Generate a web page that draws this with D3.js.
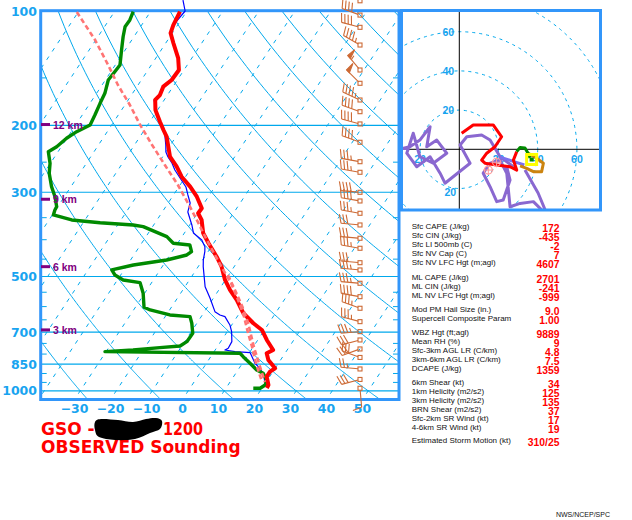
<!DOCTYPE html>
<html><head><meta charset="utf-8">
<script src="https://cdn.jsdelivr.net/npm/d3@7"></script>
<style>body{margin:0;background:#fff}svg{display:block}</style>
</head><body>
<svg id="c" width="632" height="520"></svg>
<script>
// ---------------- DATA ----------------
const pressureTicks = [100, 200, 300, 500, 700, 850, 1000];
const minorPressureTicks = [150, 250, 350, 400, 450, 550, 600, 650, 750, 800, 900, 950];
const tempTicks = [-30, -20, -10, 0, 10, 20, 30, 40, 50];
const heightLabels = ["3 km", "6 km", "9 km", "12 km"];
const heightPressures = [691, 471, 313, 199];

const tempP = [100.4,108.9,114.3,121.4,133.0,143.0,151.9,158.2,166.4,171.5,182.2,195.6,205.7,214.2,227.6,241.8,256.9,273.0,290.0,308.2,330.6,340.8,354.9,384.0,408.0,443.3,471.0,510.6,542.5,576.3,624.7,663.7,691.2,734.5,780.4,796.0,829.1,872.0,890.1,917.5,964.8,982.4];
const tempT = [-71.8,-71.2,-70.5,-67.9,-63.8,-61.4,-61.6,-62.7,-62.1,-62.5,-60.6,-57.2,-54.7,-52.6,-50.3,-48.0,-44.3,-41.1,-36.9,-33.2,-29.7,-29.8,-27.6,-24.8,-21.5,-16.7,-13.5,-10.1,-6.9,-3.2,1.1,5.7,9.3,12.5,16.1,14.9,16.6,20.0,19.2,19.2,21.2,21.3];

const dwptP = [100.4,105.6,110.0,116.9,126.7,138.7,144.5,151.9,164.7,175.0,187.8,199.5,207.8,216.3,227.6,234.6,251.7,267.4,290.0,308.2,327.4,334.0,344.3,354.9,360.8,365.8,369.6,392.7,408.7,412.9,430.1,438.8,452.3,466.2,480.5,495.3,510.6,519.0,553.5,602.4,612.3,631.2,637.7,663.7,705.2,742.0,761.6,769.5,780.4,788.3,796.0,812.7,845.9,880.9,898.7,936.0,964.8,984.2,984.2];
const dwptT = [-84.8,-84.2,-84.3,-83.0,-81.0,-78.7,-78.9,-79.2,-77.7,-77.2,-76.5,-76.0,-78.5,-80.1,-81.3,-82.7,-80.1,-78.5,-75.4,-72.6,-70.3,-70.2,-69.7,-63.7,-55.3,-45.7,-42.6,-34.2,-31.2,-26.3,-24.6,-25.3,-30.0,-38.3,-43.4,-41.6,-38.4,-33.2,-30.4,-27.6,-25.4,-19.0,-13.1,-11.4,-9.3,-9.4,-10.5,-15.8,-22.8,-30.3,7.5,9.0,12.1,15.2,17.6,19.8,20.3,19.5,17.6];

const wetbP = [93.6,100.0,108.9,114.3,121.4,133.0,143.0,151.9,158.2,166.4,171.5,182.2,191.3,203.2,212.0,225.3,235.0,242.2,251.2,262.1,275.1,290.6,305.0,320.2,338.1,365.8,384.0,400.6,417.2,430.1,452.3,471.0,531.8,570.4,618.6,631.2,637.7,670.6,698.3,742.0,772.3,780.4,788.3,793.1,845.9,863.5,898.7,945.7,974.7];
const wetbT = [-73.1,-70.5,-71.2,-70.5,-67.9,-63.8,-61.4,-61.6,-62.7,-62.1,-62.8,-60.4,-58.4,-55.5,-53.4,-51.3,-50.0,-48.5,-46.3,-44.2,-41.3,-38.0,-36.0,-33.9,-32.9,-29.4,-27.5,-23.9,-21.8,-20.9,-19.8,-18.6,-14.4,-10.9,-7.1,-5.1,-3.4,-0.5,1.2,3.1,3.3,2.7,5.8,10.2,13.5,15.0,17.6,19.6,21.0];

const parcelAP = [100.6,119.2,138.7,156.6,176.8,199.5,225.3,254.3,287.1,328.0,359.2,400.6,469.0,519.9,576.3,637.7,703.9,766.3,829.1,897.0,947.4];
const parcelAT = [-100.4,-90.2,-82.0,-75.6,-68.6,-62.1,-55.1,-47.9,-40.6,-33.2,-28.3,-22.5,-13.8,-7.9,-2.8,1.9,6.0,9.7,12.9,16.4,18.9];
const parcelBP = [495.3,542.5,597.7,662.5,712.5,766.3,829.1,897.0,947.4];
const parcelBT = [-10.2,-5.5,-0.6,4.2,7.2,10.2,13.7,17.2,19.7];

const windP = [94.0,102.5,110.4,122.9,143.0,155.0,171.5,184.1,198.3,221.6,249.3,265.8,300.1,316.3,340.8,365.8,396.5,421.3,459.8,480.5,520.9,565.0,606.1,657.3,698.3,734.5,775.6,816.6,875.6,933.1,984.2];
const windDir = [300,290,285,300,320,315,295,290,285,290,280,280,275,280,280,275,275,280,275,275,275,280,290,285,265,255,250,290,275,255,175];
const windSpd = [35,40,40,45,55,50,45,40,40,40,35,35,40,40,35,30,30,35,30,35,35,40,35,35,35,30,30,30,25,30,10];

const hodoRings = [20, 40, 60, 80];
const hodoRedU = [1.2,7.1,17.3,21.6,18.2,14.0,11.4,13.1,19.1,25.9,29.3,27.6,29.3];
const hodoRedV = [8.2,12.4,12.4,6.4,1.3,-2.0,-5.5,-7.1,-8.0,-8.9,-10.6,-5.5,-1.2];
const hodoGreenU = [29.3,31.0,33.5,35.0,36.1];
const hodoGreenV = [-1.2,0.9,0.7,-1.9,-4.4];
const hodoOrangeU = [35.2,39.5,42.9,42.0,37.8,34.4,31.0];
const hodoOrangeV = [-2.0,-4.6,-7.1,-11.4,-11.4,-9.7,-8.5];
const hodoPurpleU = [-32.3,-25.2,-20.1,-14.9,-16.6,-11.5,-6.4,-13.3,-20.1,-23.5,-26.8,-21.7,-14.9,-9.8,-7.3,5.5,0.4,3.8,11.4,15.7,20.8,27.6,24.2,25.9,22.4,19.1,15.7,12.2,15.7,20.8,24.2,25.9,31.0,37.8,42.9];
const hodoPurpleV = [-0.4,1.3,4.7,11.5,1.3,4.7,-2.0,-7.1,-3.8,8.2,-2.0,-8.9,-3.8,-12.2,-17.3,-7.1,2.2,6.4,7.3,4.7,-3.8,-8.9,-8.9,-15.7,-25.9,-26.7,-19.1,-12.2,-7.1,-5.5,-12.2,-29.3,-27.6,-26.7,-31.8];
const hodoPurple2U = [33.5,40.2,44.2];
const hodoPurple2V = [-10.6,-22.3,-31.9];
const hodoVioletU = [20.8,27.1,33.2];
const hodoVioletV = [-4.0,-6.0,-8.0];
const stormMotionU = [19.0,14.8];
const stormMotionV = [-6.6,-10.6];
const meanWindU = [36.9];
const meanWindV = [-5.2];

const paramLabels = ["Sfc CAPE (J/kg)","Sfc CIN (J/kg)","Sfc LI 500mb (C)","Sfc NV Cap (C)","Sfc NV LFC Hgt (m;agl)",
  "ML CAPE (J/kg)","ML CIN (J/kg)","ML NV LFC Hgt (m;agl)",
  "Mod PM Hail Size (in.)","Supercell Composite Param",
  "WBZ Hgt (ft;agl)","Mean RH (%)","Sfc-3km AGL LR (C/km)","3km-6km AGL LR (C/km)","DCAPE (J/kg)",
  "6km Shear (kt)","1km Helicity (m2/s2)","3km Helicity (m2/s2)","BRN Shear (m2/s2)","Sfc-2km SR Wind (kt)","4-6km SR Wind (kt)",
  "Estimated Storm Motion (kt)"];
const paramValues = ["172","-435","-2","7","4607","2701","-241","-999","9.0","1.00","9889","9","4.8","7.5","1359","34","125","135","37","17","19","310/25"];
const paramGroup = [0,0,0,0,0,1,1,1,2,2,3,3,3,3,3,4,4,4,4,4,4,5];

// ---------------- GEOMETRY ----------------
const svg = d3.select('#c');
const L = 40.7, R = 399, TOP = 10.7, B = 399.5;
const yScale = d3.scaleLog().domain([100, 1053]).range([11, 399.4]);
const tScale = d3.scaleLinear().domain([0, 10]).range([183.5, 219.5]);
const SKEW = 0.66, YREF = 398;
const X = (t, p) => tScale(t) + SKEW * (YREF - yScale(p));

const GRID = "#00a8ec", FRAME = "#3296fa", LABEL = "#18a4f0";

const defs = svg.append('defs');
defs.append('clipPath').attr('id', 'mainclip').append('rect')
  .attr('x', L).attr('y', TOP).attr('width', R - L).attr('height', B - TOP);

// grid
const gGrid = svg.append('g').attr('clip-path', 'url(#mainclip)');
d3.range(-170, 61, 10).forEach(t => {
  gGrid.append('line').attr('x1', X(t, 1070)).attr('y1', yScale(1070))
    .attr('x2', X(t, 95)).attr('y2', yScale(95))
    .attr('stroke', GRID).attr('stroke-width', 1).attr('stroke-dasharray', '4,6');
});
const skewLine = d3.line().x(d => X(d[1], d[0])).y(d => yScale(d[0]));
d3.range(-30, 251, 20).forEach(th => {
  const pts = d3.range(1070, 94, -5).map(p => [p, (th + 273.15) * Math.pow(p / 1000, 0.2857) - 273.15]);
  gGrid.append('path').attr('d', skewLine(pts)).attr('fill', 'none')
    .attr('stroke', GRID).attr('stroke-width', 1);
});
pressureTicks.forEach(p => {
  gGrid.append('line').attr('x1', L).attr('x2', R).attr('y1', yScale(p)).attr('y2', yScale(p))
    .attr('stroke', GRID).attr('stroke-width', 1.2);
});
minorPressureTicks.forEach(p => {
  [[L, L + 6], [R - 6, R]].forEach(([a, b]) => {
    gGrid.append('line').attr('x1', a).attr('x2', b).attr('y1', yScale(p)).attr('y2', yScale(p))
      .attr('stroke', GRID).attr('stroke-width', 1);
  });
});

// frame
svg.append('rect').attr('x', L).attr('y', TOP).attr('width', R - L).attr('height', B - TOP)
  .attr('fill', 'none').attr('stroke', FRAME).attr('stroke-width', 3);

// axis labels
const axG = svg.append('g').attr('font-family', 'DejaVu Sans, Verdana, sans-serif')
  .attr('font-weight', 'bold').attr('font-size', 12.5).attr('fill', LABEL);
pressureTicks.forEach(p => {
  axG.append('text').attr('x', 37).attr('y', yScale(p) + 4.6).attr('text-anchor', 'end').text(p);
});
tempTicks.forEach(t => {
  axG.append('text').attr('x', X(t, 1053)).attr('y', 413).attr('text-anchor', 'middle')
    .text(t < 0 ? '\u2212' + Math.abs(t) : String(t));
});

// profiles
const zip = (P, T) => P.map((p, i) => [p, T[i]]);
const prof = svg.append('g').attr('fill', 'none').attr('stroke-linejoin', 'round');
prof.append('path').attr('d', skewLine(zip(wetbP, wetbT))).attr('stroke', '#0000ff').attr('stroke-width', 1.2);
prof.append('path').attr('d', skewLine(zip(dwptP, dwptT))).attr('stroke', '#008a00').attr('stroke-width', 3.4);
prof.append('path').attr('d', skewLine(zip(tempP, tempT))).attr('stroke', '#ff0000').attr('stroke-width', 4);
prof.append('path').attr('d', skewLine(zip(parcelAP, parcelAT))).attr('stroke', '#ff7474').attr('stroke-width', 2.6).attr('stroke-dasharray', '5,3');
prof.append('path').attr('d', skewLine(zip(parcelBP, parcelBT))).attr('stroke', '#ff7474').attr('stroke-width', 2.6).attr('stroke-dasharray', '5,3');

// height labels (drawn over the profiles)
const hG = svg.append('g');
heightLabels.forEach((s, i) => {
  const y = yScale(heightPressures[i]);
  hG.append('rect').attr('x', 41).attr('y', y - 1.5).attr('width', 9).attr('height', 3).attr('fill', '#800080');
  hG.append('text').attr('x', 53).attr('y', y + 4).attr('font-family', 'Liberation Sans, Arial, sans-serif')
    .attr('font-weight', 'bold').attr('font-size', 10.5).attr('fill', '#800080').text(s);
});

// wind barbs
const gB = svg.append('g').attr('stroke', '#cd6a35').attr('fill', 'none').attr('stroke-width', 1.1);
windP.forEach((p, i) => {
  const cx = 360, cy = yScale(p);
  const a = windDir[i] * Math.PI / 180;
  const sx = Math.sin(a), sy = -Math.cos(a);
  const px = -sy, py = sx;
  const Ls = 19, bl = 9, step = 3.4;
  gB.append('rect').attr('x', cx - 2).attr('y', cy - 2).attr('width', 4).attr('height', 4);
  gB.append('line').attr('x1', cx + sx * 2).attr('y1', cy + sy * 2).attr('x2', cx + sx * Ls).attr('y2', cy + sy * Ls);
  let spd = Math.round(windSpd[i] / 5) * 5;
  const n50 = Math.floor(spd / 50); spd -= n50 * 50;
  const n10 = Math.floor(spd / 10); spd -= n10 * 10;
  const n5 = spd >= 5 ? 1 : 0;
  let pos = Ls;
  for (let k = 0; k < n50; k++) {
    const b1 = [cx + sx * pos, cy + sy * pos], b2 = [cx + sx * (pos - 4), cy + sy * (pos - 4)];
    const tip = [b1[0] + px * bl, b1[1] + py * bl];
    gB.append('path').attr('d', `M${b1}L${tip}L${b2}Z`).attr('fill', '#cd6a35');
    pos -= 5.5;
  }
  for (let k = 0; k < n10; k++) {
    const b = [cx + sx * pos, cy + sy * pos];
    gB.append('line').attr('x1', b[0]).attr('y1', b[1])
      .attr('x2', b[0] + px * bl + sx * 2.5).attr('y2', b[1] + py * bl + sy * 2.5);
    pos -= step;
  }
  if (n5) {
    if (n10 === 0 && n50 === 0) pos -= step;
    const b = [cx + sx * pos, cy + sy * pos];
    gB.append('line').attr('x1', b[0]).attr('y1', b[1])
      .attr('x2', b[0] + px * bl / 2 + sx * 1.3).attr('y2', b[1] + py * bl / 2 + sy * 1.3);
  }
});

// ---------------- HODOGRAPH ----------------
const HL = 401.5, HR = 600.5, HT = 10.5, HB = 210;
const us = d3.scaleLinear().domain([0, 20]).range([459.3, 498.5]);
const vs = d3.scaleLinear().domain([0, 20]).range([149.3, 110.1]);
defs.append('clipPath').attr('id', 'hodoclip').append('rect')
  .attr('x', HL).attr('y', HT).attr('width', HR - HL).attr('height', HB - HT);
const hg = svg.append('g').attr('clip-path', 'url(#hodoclip)');
hodoRings.forEach(r => {
  hg.append('circle').attr('cx', us(0)).attr('cy', vs(0)).attr('r', us(r) - us(0))
    .attr('fill', 'none').attr('stroke', GRID).attr('stroke-width', 1).attr('stroke-dasharray', '3,4');
});
hg.append('line').attr('x1', us(0)).attr('x2', us(0)).attr('y1', HT).attr('y2', HB).attr('stroke', '#000');
hg.append('line').attr('x1', HL).attr('x2', HR).attr('y1', vs(0)).attr('y2', vs(0)).attr('stroke', '#000');
const hlab = hg.append('g').attr('font-family', 'Liberation Sans, Arial, sans-serif').attr('font-weight', 'bold')
  .attr('font-size', 10.5).attr('fill', LABEL).attr('text-anchor', 'middle');
const inBox = (x, y) => x - 8 > HL && x + 8 < HR && y - 8 > HT && y < HB - 2;
hodoRings.forEach(r => {
  [[us(0) - 11, vs(r) + 4], [us(0) - 9, vs(-r) + 7], [us(r), vs(0) + 14], [us(-r), vs(0) + 14]].forEach(([x, y]) => {
    if (inBox(x, y)) hlab.append('text').attr('x', x).attr('y', y).text(r);
  });
});
const hline = d3.line().x(d => us(d[0])).y(d => vs(d[1]));
const hz = (U, V) => U.map((u, i) => [u, V[i]]);
const tr = hg.append('g').attr('fill', 'none').attr('stroke-width', 3).attr('stroke-linejoin', 'round');
tr.append('path').attr('d', hline(hz(hodoPurpleU, hodoPurpleV))).attr('stroke', '#8a68d0');
tr.append('path').attr('d', hline(hz(hodoPurple2U, hodoPurple2V))).attr('stroke', '#8a68d0');
tr.append('path').attr('d', hline(hz(hodoVioletU, hodoVioletV))).attr('stroke', '#7b70ee');
tr.append('path').attr('d', hline(hz(hodoOrangeU, hodoOrangeV))).attr('stroke', '#cc8410');
tr.append('path').attr('d', hline(hz(hodoRedU, hodoRedV))).attr('stroke', '#ff0000');
tr.append('path').attr('d', hline(hz(hodoGreenU, hodoGreenV))).attr('stroke', '#008a00');
meanWindU.forEach((u, i) => {
  hg.append('rect').attr('x', us(u) - 5).attr('y', vs(meanWindV[i]) - 5).attr('width', 10).attr('height', 10)
    .attr('fill', 'none').attr('stroke', '#ffff00').attr('stroke-width', 3);
  hg.append('rect').attr('x', us(u) - 2).attr('y', vs(meanWindV[i]) - 2).attr('width', 4).attr('height', 4).attr('fill', '#008a00');
});
stormMotionU.forEach((u, i) => {
  const x = us(u), y = vs(stormMotionV[i]);
  hg.append('circle').attr('cx', x).attr('cy', y).attr('r', 4).attr('fill', 'none').attr('stroke', '#ff9a9a').attr('stroke-width', 1.2);
  hg.append('path').attr('d', `M${x - 5},${y}H${x + 5}M${x},${y - 5}V${y + 5}`).attr('stroke', '#ff9a9a').attr('stroke-width', 1);
});
svg.append('rect').attr('x', HL).attr('y', HT).attr('width', HR - HL).attr('height', HB - HT)
  .attr('fill', 'none').attr('stroke', FRAME).attr('stroke-width', 3);

// ---------------- PARAMETER TABLE ----------------
const groupStart = [229.4, 280, 312, 335, 385, 443.4];
const rowIdx = {};
const tg = svg.append('g');
paramLabels.forEach((s, i) => {
  const g = paramGroup[i];
  rowIdx[g] = (rowIdx[g] || 0);
  const y = groupStart[g] + 9 * rowIdx[g];
  rowIdx[g]++;
  tg.append('text').attr('x', 411.7).attr('y', y).attr('font-family', 'Liberation Sans, Arial, sans-serif')
    .attr('font-size', 8).attr('fill', '#111').text(s);
  const v = tg.append('text').attr('x', 559.5).attr('y', y + 3).attr('text-anchor', 'end')
    .attr('font-family', 'Liberation Sans, Arial, sans-serif').attr('font-weight', 'bold')
    .attr('font-size', 11.5).attr('fill', '#ff0000').text(paramValues[i]);
  const w = v.node().getComputedTextLength();
  v.attr('textLength', w * 0.9).attr('lengthAdjust', 'spacingAndGlyphs');
});

// ---------------- TITLE ----------------
const titleG = svg.append('g').attr('font-family', 'DejaVu Sans, Verdana, sans-serif')
  .attr('font-weight', 'bold').attr('font-size', 17).attr('fill', '#ff0000');
titleG.append('text').attr('x', 41).attr('y', 435).text('GSO -');
titleG.append('text').attr('x', 163).attr('y', 435).attr('textLength', 40).attr('lengthAdjust', 'spacingAndGlyphs').text('1200');
titleG.append('text').attr('x', 41).attr('y', 452.7).text('OBSERVED Sounding');
const blob = [[95,422],[101,419],[118,420],[133,422],[146,419],[156,418],[162,421],[160,429],[150,433],[135,439],[115,440],[99,437],[95,430]];
svg.append('path').attr('d', d3.line().curve(d3.curveCardinalClosed)(blob)).attr('fill', '#000');

svg.append('text').attr('x', 610).attr('y', 517).attr('text-anchor', 'end')
  .attr('font-family', 'Liberation Sans, Arial, sans-serif').attr('font-size', 7).attr('fill', '#111')
  .text('NWS/NCEP/SPC');
</script>
</body></html>
